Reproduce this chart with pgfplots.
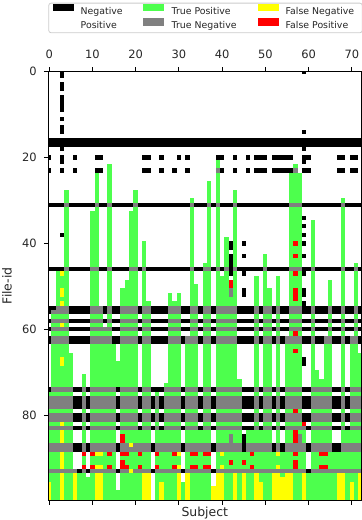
\documentclass[border=0pt]{standalone}
\usepackage{pgfplots}
\usepackage{pgfplotstable}
\pgfplotsset{compat=1.18}
\usepackage{fontspec}
\setmainfont{DejaVu Sans}
\definecolor{tpgreen}{RGB}{77,255,77}
\definecolor{tngray}{RGB}{128,128,128}
\definecolor{fnyellow}{RGB}{255,255,0}
\definecolor{fpred}{RGB}{255,0,0}
\definecolor{legframe}{RGB}{204,204,204}
% one line per File-id (0..99), one entry per Subject (0..72)
% w=Positive, k=Negative, g=True Positive, n=True Negative, f=False Negative, p=False Positive
\pgfplotstableread[header=false]{
w w w k w w w w w w  w w w w w w w w w w  w w w w w w w w w w  w w w w w w w w w w  w w w w w w w w w w  w w w w w w w w w k  w w w w w w w w w w  w w w
w w w k w w w w w w  w w w w w w w w w w  w w w w w w w w w w  w w w w w w w w w w  w w w w w w w w w w  w w w w w w w w w w  w w w w w w w w w w  w w w
w w w w w w w w w w  w w w w w w w w w w  w w w w w w w w w w  w w w w w w w w w w  w w w w w w w w w w  w w w w w w w w w w  w w w w w w w w w w  w w w
w w w k w w w w w w  w w w w w w w w w w  w w w w w w w w w w  w w w w w w w w w w  w w w w w w w w w w  w w w w w w w w w w  w w w w w w w w w w  w w w
w w w k w w w w w w  w w w w w w w w w w  w w w w w w w w w w  w w w w w w w w w w  w w w w w w w w w w  w w w w w w w w w w  w w w w w w w w w w  w w w
w w w w w w w w w w  w w w w w w w w w w  w w w w w w w w w w  w w w w w w w w w w  w w w w w w w w w w  w w w w w w w w w w  w w w w w w w w w w  w w w
w w w k w w w w w w  w w w w w w w w w w  w w w w w w w w w w  w w w w w w w w w w  w w w w w w w w w w  w w w w w w w w w w  w w w w w w w w w w  w w w
w w w k w w w w w w  w w w w w w w w w w  w w w w w w w w w w  w w w w w w w w w w  w w w w w w w w w w  w w w w w w w w w w  w w w w w w w w w w  w w w
w w w k w w w w w w  w w w w w w w w w w  w w w w w w w w w w  w w w w w w w w w w  w w w w w w w w w w  w w w w w w w w w w  w w w w w w w w w w  w w w
w w w k w w w w w w  w w w w w w w w w w  w w w w w w w w w w  w w w w w w w w w w  w w w w w w w w w w  w w w w w w w w w w  w w w w w w w w w w  w w w
w w w w w w w w w w  w w w w w w w w w w  w w w w w w w w w w  w w w w w w w w w w  w w w w w w w w w w  w w w w w w w w w w  w w w w w w w w w w  w w w
w w w k w w w w w w  w w w w w w w w w w  w w w w w w w w w w  w w w w w w w w w w  w w w w w w w w w w  w w w w w w w w w w  w w w w w w w w w w  w w w
w w w w w w w w w w  w w w w w w w w w w  w w w w w w w w w w  w w w w w w w w w w  w w w w w w w w w w  w w w w w w w w w w  w w w w w w w w w w  w w w
w w w k w w w w w w  w w w w w w w w w w  w w w w w w w w w w  w w w w w w w w w w  w w w w w w w w w w  w w w w w w w w w w  w w w w w w w w w w  w w w
w w w k w w w w w w  w w w w w w w w w w  w w w w w w w w w w  w w w w w w w w w w  w w w w w w w w w w  w w w w w w w w w k  w w w w w w w w w w  w w w
w w w w w w w w w w  w w w w w w w w w w  w w w w w w w w w w  w w w w w w w w w w  w w w w w w w w w w  w w w w w w w w w w  w w w w w w w w w w  w w w
k k k k k k k k k k  k k k k k k k k k k  k k k k k k k k k k  k k k k k k k k k k  k k k k k k k k k k  k k k k k k k k k k  k k k k k k k k k k  k k k
k k k k k k k k k k  k k k k k k k k k k  k k k k k k k k k k  k k k k k k k k k k  k k k k k k k k k k  k k k k k k k k k k  k k k k k k k k k k  k k k
w w w k w w w w w w  w w w w w w w w w w  w w w w w w w w w w  w w w w w w w w w w  w w w w w w w w w w  w w w w w w w w w k  w w w w w w w w w w  w w w
w w w w w w w w w w  w w w w w w w w w w  w w w w w w w w w w  w w w w w w w w w w  w w w w w w w w w w  w w w w w w w w w w  w w w w w w w w w w  w w w
k w w k w w k w w w  w k k w w w w w w w  w w k k w w k w w w  k w k w w w w w w k  k w w k w w k w k k  k w k k k k k w w k  k w w w w w w k k w  k k w
w w w k w w w w w w  w w w w w w w w w w  w w w w w w w w w w  w w w w w w w w w g  w w w w w w w w w w  w w w w w w w w w k  w w w w w w w w w w  w w w
w w w w w w w w w w  w w w w g w w w w w  w w w w w w w w w w  w w w w w w w w w g  w w w w w w w w w w  w w w w w w w g w w  w w w w w w w w w w  w w w
k w w k w w k w w w  w k k w g w w w w w  w w k k w w k w w k  w w k w w w w w w n  k w w k w w k w k k  k w k k k k k n w k  k w w w w w w k k w  k k w
w w w w w w w w w w  w g w w g w w w w w  w w w w w w w w w w  w w w w w w w w w g  w w w w w w w w w w  w w w w w w g g g w  w w w w w w w w w w  w w w
w w w w w w w w w w  w g w w g w w w w w  w w w w w w w w w w  w w w w w w w w w g  w w w w w w w w w w  w w w w w w g g g w  w w w w w w w w w w  w w w
w w w w w w w w w w  w g w w g w w w w w  w w w w w w w w w w  w w w w w w w g w g  w w w w w w w w w w  w w w w w w g g g w  w w w w w w w w w w  w w w
w w w w w w w w w w  w g w w g w w w w w  w w w w w w w w w w  w w w w w w w g w g  w w w w w w w w w w  w w w w w w g g g w  w w w w w w w w w w  w w w
w w w w g w w w w w  w g w w g w w w w w  g w w w w w w w w w  w w w w w w w g w g  w w w g w w w w w w  w w w w w w g g g w  w w w w w w w w w w  w w w
w w w w g w w w w w  w g w w g w w w w w  g w w w w w w w w w  w w w w w w w g w g  w w w g w w w w w w  w w w w w w g g g w  w w w w w w w w w w  w w w
w w w w g w w w w w  w g w w g w w w w w  g w w w w w w w w w  w w w g w w w g w g  w w w g w w w w w w  w w w w w w g g g w  w w w w w w w w g w  w w w
k k k k n k k k k k  k n k k n k k k k k  n k k k k k k k k k  k k k n k k k n k n  k k k n k k k k k k  k k k k k k n n n k  k k k k k k k k n k  k k k
w w w w g w w w w w  w g w w g w w w w w  g w w w w w w w w w  w w w g w w w g w g  w w w g w w w w w w  w w w w w w g g g w  w w w w w w w w g w  w w w
w w w w g w w w w w  g g w w g w w w w g  g w w w w w w w w w  w w w g w w w g w g  w w w g w w w w w w  w w w w w w g g g w  w w w w w w w w g w  w w w
w w w w g w w w w w  g g w w g w w w w g  g w w w w w w w w w  w w w g w w w g w g  w w w g w w w w w w  w w w w w w g g g k  w w w w w w w w g w  w w w
w w w w g w w w w w  g g w w g w w w w g  g w w w w w w w w w  w w w g w w w g w g  w w w g w w w w w w  w w w w w w g g g w  w g w w w w w w g w  w w w
w w w w g w w w w w  g g w w g w w w w g  g w w w w w w w w w  w w w g w w w g w g  w w w g w w w w w w  w w w w w w g g g k  w g w w w w w w g w  w w w
w w w w g w w w w w  g g w w g w w w w g  g w w w w w w w w w  w w w g w w w g w g  w w w g w w w w w w  w w w w w w g g g w  w g w w w w w w g w  w w w
w w w k g w w w w w  g g w w g w w w w g  g w w w w w w w w w  w w w g w w w g w g  w w w g w w w w w w  w w w w w w g g g k  w g w w w w w w g w  w w w
w w w w g w w w w w  g g w w g w w w w g  g w w w w w w w w w  w w w g w w w g w g  w g w g w w w w w w  w w w w w w g g g w  w g w w w w w w g w  w w w
w w w w g w w w w w  g g w w g w w w w g  g w g w w w w w w w  w w w g w w w g w g  w g k g w k w w w w  w w w w w w g p g k  w g w w w w w w g w  w w w
w w w w g w w w w w  g g w w g w w w w g  g w g w w w w w w w  w w w g w w w g w g  w g k g w w w w w w  w w w w w w g g g w  w g w w w w w w g w  w w w
w w w w g w w w w w  g g w w g w w w w g  g w g w w w w w w w  w w w g w w w g w g  w g w g w w w w w w  w w w w w w g g g w  w g w w w w w w g w  w w w
w w w w g w w w w w  g g w w g w w w w g  g w g w w w w w w w  w w w g w w w g w g  w g k g w k w w w w  g w w w w w g p g k  w g w w w w w w g w  w w w
w w w w g w w w w w  g g w w g w w w w g  g w g w w w w w w w  w w w g w w w g w g  w g k g w w w w w w  g w w w w w g g g w  w g w w w w w w g w  w w w
w w w w g w w w w w  g g w w g w w w w g  g w g w w w w w w w  w w w g w w g g w g  w g k g w w w w w w  g w w w w w g g g w  w g w w w w w w g w  w g w
k k k k n k k k k k  n n k k n k k k k n  n k n k k k k k k k  k k k n k k n n k n  k n k n k k k k k k  n k k k k k n n n k  k n k k k k k k n k  k n k
w w g f g w w w w w  g g w w g w w w w g  g w g w w w w w w w  w w w g w w g g w g  w g k g w k w w w w  g w w w w w g p g k  w g w w w w w w g w  w g w
w w g g g w w w w w  g g w w g w w w w g  g w g w w w w w w w  w w w g w w g g w g  g g w g w w w w g w  g w w g w w g g g w  w g w w w w w w g w  w g w
w w g g g w w w w w  g g w w g w w w g g  g w g w w w w w w w  w w w g w w g g w g  g g p g w w w w g w  g w w g w w g g g w  w g w w w g w w g w  w g w
w w g g g w w w w w  g g w w g w w w g g  g w g w w w w w w w  w w w g g w g g w g  g g p g w w w w g w  g w w g w w g g g w  w g w w w g w w g w  w g w
w w g f g w w w w w  g g w w g w w g g g  g w g w w w w w w w  w w w g g w g g w g  g g n g w k w w g w  g g w g w w g p g k  w g w w w g w w g w  w g w
w w g f g w w w w w  g g w w g w w g g g  g w g w w w w w g w  g w w g g w g g w g  g g n g w k w w g w  g g w g w w g p g k  w g w w w g w w g w  w g w
w w g g g w w w w w  g g w w g w w g g g  g w g w w w w w g w  g w w g g w g g w g  g g g g w w w w g w  g g w g w w g p g w  w g w w w g w w g w  w g w
w w g f g w w w w w  g g w w g w w g g g  g w g g w w w w g g  g w w g g w g g w g  g g g g w w w w g w  g g w g w w g g g k  w g w w w g w w g w  w g w
k k n n n k k k k k  n n n k n k k n n n  n k n n k k k k n n  n k k n n k n n k n  n n n n k k k k n k  n n k n k k n n n k  k n k k k n k k n k  k n k
k n n n n k k k k k  n n n k n k k n n n  n k n n k k k k n n  n k k n n k n n k n  n n n n k k k k n k  n n k n k k n n n k  k n k k k n k k n k  k n k
w g g g g w w w w w  g g g w g w w g g g  g w g g w w w w g g  g w w g g w g g w g  g g g g w w w w g w  g g w g w w g g g w  w g w w w g w w g w  w g w
k n n n n k k k k k  n n n k n k k n n n  n k n n k k k k n n  n k k n n k n n k n  n n n n k k k k n k  n n k n k k n n n k  k n k k k n k k n k  k n k
w g g f g w w w w w  g g g w g w w g g g  g w g g w w w w g g  g w w g g w g g w g  g g g g w w w w g w  g g w g w w g g g w  w g w w w g w w g w  w g w
k n n n n k k k k k  n n n n n k k n n n  n k n n k k k k n n  n k k n n k n n k n  n n n n k k k k n k  n n k n k k n n n k  k n k k k n k k n k  k n k
w g g g g w w w w w  g g g g g w w g g g  g w g g w w w w g g  g w w g g w g g w g  g g g g w w w w g w  g g w g w w g p g w  w g w w w g w w g w  w g w
k n n n n k k k k k  n n n n n k k n n n  n k n n k k k k n n  n k n n n k n n k n  n n n n k k k k n k  n n k n k n n n n k  k n k k n n k k n k  n n k
k n n n n k k k k k  n n n n n k k n n n  n k n n k k k k n n  n k n n n k n n k n  n n n n k k k k n k  n n k n k n n n n k  k n k k n n k k n k  n n k
w g g g g w w w w w  g g g g g g w g g g  g w g g w w w w g g  g w g g g w g g w g  g g g g w w w w g w  g g w g w g g g g w  w g w w g g w w g w  g g w
w g g g g w w w w w  g g g g g g w g g g  g w g g w w w w g g  g w g g g w g g w g  g g g g w w w w g w  g g w g w g g p g w  w g w w g g w w g w  g g w
w g g g g g w w w w  g g g g g g w g g g  g w g g w w w w g g  g w g g g w g g w g  g g g g w w w w g w  g g w g w g g g g w  w g w w g g w w g w  g g g
w g g f g g w w w w  g g g g g g w g g g  g w g g w w w w g g  g w g g g w g g w g  g g g g w w w w g w  g g w g w g g g g k  w g w w g g w w g w  g g g
w g g f g g w w w w  g g g g g g g g g g  g w g g w w w w g g  g w g g g w g g w g  g g g g w w w w g w  g g w g w g g g g k  w g w w g g w w g w  g g g
w g g g g g w w w w  g g g g g g g g g g  g w g g w w w w g g  g w g g g w g g w g  g g g g w w w w g w  g g w g w g g g g w  w g w w g g w w g w  g g g
w g g g g g w w w w  g g g g g g g g g g  g w g g w w w w g g  g w g g g w g g w g  g g g g w w w w g w  g g w g w g g g g w  w g g w g g w w g w  g g g
w g g g g g w w g w  g g g g g g g g g g  g w g g w w w w g g  g w g g g w g g w g  g g g g w w w w g w  g g w g w g g g g w  w g g w g g w w g w  g g g
w g g g g g w w g w  g g g g g g g g g g  g w g g w w w w g g  g w g g g w g g w g  g g g g g w w w g w  g g w g w g g g g w  w g g g g g w w g w  g g g
w g g g g g w w g w  g g g g g g g g g g  g w g g w w w g g g  g w g g g w g g w g  g g g g g w w w g w  g g w g w g g g g w  w g g g g g w w g w  g g g
k n n n n n k k n k  n n n n n n k n n n  n k n n k k k n n n  n k n n n k n n k n  n n n n n k k k n k  n n k n k n n n n k  k n n n n n k k n k  n n n
g g g g g g w w g w  g g g g g g w g g g  g w g g w g w g g g  g w g g g w g g w g  g g g g g w w w g w  g g w g w g g g g w  w g g g g g w w g w  g g g
n n n n n n k k n k  n n n n n n k n n n  n k n n k n k n n n  n k n n n k n n k n  n n n n n k k k n k  n n k n k n n n n k  k n n n n n k k n k  n n n
n n n n n n k k n k  n n n n n n k n n n  n k n n k n k n n n  n k n n n k n n k n  n n n n n k k k n k  n n k n k n n n n k  k n n n n n k k n k  n n n
n n n n n n k k n k  n n n n n n k n n n  n k n n k n k n n n  n k n n n k n n k n  n n n n n k k k n k  n n k n k n n n n k  k n n n n n k k n k  n n n
g g g g g g w w g w  g g g g g g w g g g  g w g g w g w g g g  g w g g g w g g w g  g g g g g w w w g w  g g w g w g g p g w  w g g g g g w w g w  g g g
n n n n n n k k n k  n n n n n n k n n n  n k n n k n k n n n  n k n n n k n n k n  n n n n n k k k n k  n n k n k n n n n k  k n n n n n k k n k  n n n
n n n n n n k k n k  n n n n n n k n n n  n k n n k n k n n n  n k n n n k n n k n  n n n n n k k k n k  n n k n k n n n n k  k n n n n n k k n k  n n n
g g g f g g w w g w  g g g g g g w g g g  g w g g w g w g g g  g w g g g w g g w g  g g g g g w w w g w  g g w g w g g g g p  w g g g g g w w g w  g g g
n n n n n n k k n k  n n n n n n k n n n  n k n n k n k n n n  n k n n n k n n k n  n n n n n k k k n k  n n k n k n n n n n  k n n n n n k k n k  n n n
g g g f g g w w g w  g g g g g g w g g g  g g g g w g g g g g  g w g g g g g g w g  g g g g g w g g g g  g g w g w g g p g g  w g g g g g w w g g  g g g
g g g f g g w w g w  g g g g g g w p g g  g g g g w g g g g g  g w g g g g g g w g  g g n g g k g g g g  g g w g w g g p n g  w g g g g g w w g g  g g g
g g g f g g w w g w  g g g g g g w p g g  g g g g w g g g g g  g w g g g g g g w g  g g n g g k g g g g  g g w g w g g p n g  w g g g g g w w g g  g g g
n n n n n n k k n k  n n n n n n k n n f  n n n n k n n n n n  n k n n n n n n k n  n n n n n k n n n n  n n k n k n n n n n  k n n n n n k k n n  n n n
n n n n n n k k n k  n n n n n n k n n n  n n n n k n n n n n  n k n n n n n n k n  n n n n n k n n n n  n n k n k n n n n n  k n n n n n k k n n  n n n
g g g f g g w w p w  p f f g p g w p p g  g p g g w p g g g p  f w g p p g p p w g  f g g g g g g p g g  g g g f g g g p g g  w g g p p g g g g g  g g g
g g g f g g w w g w  g g g g g g w g g g  g g g g w g g g g g  g w g g g g g g w g  g g g g g g g g g g  g g g g g g g g g g  w g g g g g g g g g  g g g
g g g f g g w w g w  g g g g g g w p g g  g g g g w g g g g g  g w g g g g g g w g  g g p g g p g g g g  g g g g g g g p g g  w g g g g g g g g g  g g g
g g g f g g w w p w  p f f g p g w p p g  g p g g w p g g g p  f w g p p g p p w g  f g g g g g g p g g  g g g f g g g p g g  w g g p p g g g g g  g g g
n n n n n n n k n k  n n n n n n k n n f  n n n n k n n n n n  n k n n n n n n k n  n n n n n n n n n n  n n n n n n n n n n  k n n n n n n n n n  n n n
g g g f g g f g g w  g f f g g g w g g g  g g f f w g g g g g  f w f g g g g g w f  f g g f g f g g f g  g g f f g f f g g f  g g g g g g g f f g  g g f
g g g f g g f g g g  g f f g g g w g g g  g g f f w g g g g g  f w f g g g g g w f  f g g f g f g g f g  g g f f f f f g g f  g g g g g g g f f g  g g f
f g g f g g f g g g  g f f g g g w g g g  g g f f w g f g g g  f g f g g g g g w f  f g g f g f g g f f  g g f f f f f g g f  g g g g g g g f f g  f g f
f g g f g g f g g g  g f f g g g w g g g  g g f f w g f g g g  f g f g g g g g f f  f g g f g f g g f f  g g f f f f f g g f  g g g g g g g f f g  f g f
f g g f g g f g g g  g f f g g g g g g g  g g f f w g f g g g  f g f g g g g g f f  f g g f g f g g f f  g g f f f f f g g f  g g g g g g g f f g  f g f
f g g f g g f g g g  g f f g g g g g g g  g g f f w g f g g g  f g f g g g g g f f  f g g f g f g g f f  g g f f f f f g g f  g g g g g g g f f g  f g f
}\cells
\begin{document}
\begin{tikzpicture}
\useasboundingbox (0,0) rectangle (362bp,-520bp);
\begin{axis}[
  at={(48.3bp,-500bp)}, anchor=south west,
  scale only axis, width=313bp, height=428.3bp,
  xmin=-0.2, xmax=72.2, ymin=0, ymax=99.75, y dir=reverse,
  axis on top, clip marker paths=true,
  xtick={0,10,...,70}, ytick={0,20,...,80},
  xtick pos=both, xticklabel pos=upper, ytick pos=left,
  tick align=outside, major tick length=4.5bp,
  every tick/.style={black, line width=0.8bp},
  axis line style={black, line width=0.8bp},
  /pgf/number format/assume math mode=true,
  tick label style={font=\fontsize{11.5}{13}\selectfont, text=black!85},
  xticklabel style={yshift=5bp},
  yticklabel style={xshift=-3.5bp},
  xlabel={Subject}, ylabel={File-id},
  label style={font=\fontsize{12.5}{15}\selectfont, text=black!85},
  xlabel style={at={(axis description cs:0.5,-0.0385)}, anchor=base},
  ylabel style={at={(axis description cs:-0.117,0.5)}, anchor=base},
  legend columns=3,
  legend cell align=left,
  legend image code/.code={\fill[sharp corners,#1,draw=none] (0bp,-0.1bp) rectangle (21bp,7.6bp);},
  legend style={at={(0,1)}, anchor=north west, yshift=69bp,
    draw=legframe, fill=white, rounded corners=2.5bp, line width=0.8bp,
    inner xsep=4bp, inner ysep=0.5bp, row sep=0pt, column sep=0pt,
    nodes={inner sep=0pt, text height=9.7bp, text depth=3.8bp},
    font=\fontsize{9.4}{11}\selectfont, text=black!85},
  cellplot/.style={scatter, only marks, mark=square*, mark size=2pt,
    point meta=explicit symbolic, forget plot,
    scatter/classes={w={draw=white,fill=white}, k={draw=black,fill=black},
      g={draw=tpgreen,fill=tpgreen}, n={draw=tngray,fill=tngray},
      f={draw=fnyellow,fill=fnyellow}, p={draw=fpred,fill=fpred}}},
]
\addlegendimage{fill=black}
\addlegendentry{\makebox[69bp][l]{\hspace{7bp}Negative}}
\addlegendimage{fill=tpgreen}
\addlegendentry{\makebox[94bp][l]{\hspace{8bp}True Positive}}
\addlegendimage{fill=fnyellow}
\addlegendentry{\makebox[79.6bp][l]{\hspace{7bp}False Negative}}
\addlegendimage{fill=white}
\addlegendentry{\makebox[69bp][l]{\hspace{7bp}Positive}}
\addlegendimage{fill=tngray}
\addlegendentry{\makebox[94bp][l]{\hspace{8bp}True Negative}}
\addlegendimage{fill=fpred}
\addlegendentry{\makebox[79.6bp][l]{\hspace{7bp}False Positive}}
\pgfplotsinvokeforeach{0,...,72}{
  \addplot[cellplot] table[x expr=#1, y expr=\coordindex, meta index=#1]{\cells};
}
\draw[black, line width=0.8bp] (rel axis cs:0,0) rectangle (rel axis cs:1,1);
\end{axis}
\end{tikzpicture}
\end{document}
